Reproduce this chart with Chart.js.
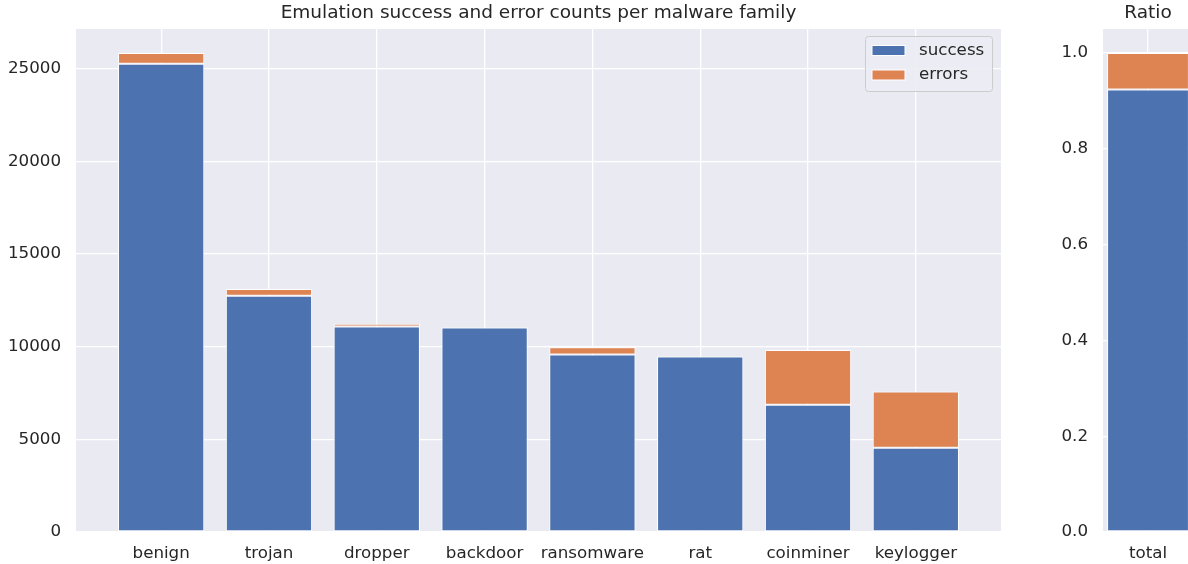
<!DOCTYPE html>
<html lang="en">
<head>
    <meta charset="UTF-8">
    <title>Emulation success and error counts</title>
    <style>
        html, body { margin: 0; padding: 0; background: #ffffff; overflow: hidden; }
        #wrap { position: relative; width: 1188px; height: 564px; overflow: hidden; }
        #mainBox { position: absolute; left: 0; top: 0; width: 1010px; height: 564px; }
        #ratioBox { position: absolute; left: 1030px; top: 0; width: 170px; height: 564px; }
    </style>
</head>
<body>
    <div id="wrap">
        <div id="mainBox"><canvas id="mainChart"></canvas></div>
        <div id="ratioBox"><canvas id="ratioChart"></canvas></div>
    </div>

    <script src="https://cdn.jsdelivr.net/npm/chart.js"></script>

    <script>
        const families = ['benign', 'trojan', 'dropper', 'backdoor', 'ransomware', 'rat', 'coinminer', 'keylogger'];
        const success = [25270, 12750, 11090, 11040, 9580, 9470, 6870, 4550];
        const errors = [580, 360, 150, 15, 395, 20, 2960, 3030];
        const countTicks = [0, 5000, 10000, 15000, 20000, 25000];
        const ratioTicks = [0, 0.2, 0.4, 0.6, 0.8, 1.0];
        const ratioLabels = ['total'];

        const BLUE = '#4c72b0';
        const ORANGE = '#dd8452';
        const TEXT = '#262626';
        const FONT = "'DejaVu Sans', sans-serif";

        Chart.defaults.font.family = FONT;
        Chart.defaults.font.size = 16.7;
        Chart.defaults.color = TEXT;

        // seaborn darkgrid background + axes title centred over the plot area
        const axesPlugin = {
            id: 'axes',
            beforeDraw(chart) {
                const { ctx, chartArea: a } = chart;
                ctx.save();
                ctx.fillStyle = '#eaeaf2';
                ctx.fillRect(a.left, a.top, a.right - a.left, a.bottom - a.top);
                ctx.restore();
            },
            afterDraw(chart, args, opts) {
                const { ctx, chartArea: a } = chart;
                ctx.save();
                ctx.font = '18.5px ' + FONT;
                ctx.fillStyle = TEXT;
                ctx.textAlign = 'center';
                ctx.textBaseline = 'middle';
                ctx.fillText(opts.text, (a.left + a.right) / 2, 13);
                ctx.restore();
            }
        };

        // legend drawn inside the axes, upper right
        const innerLegend = {
            id: 'innerLegend',
            afterDraw(chart) {
                const { ctx, chartArea: a } = chart;
                const w = 127, h = 55;
                const x = a.right - 9 - w, y = a.top + 7;
                ctx.save();
                ctx.fillStyle = 'rgba(236,236,244,0.9)';
                ctx.strokeStyle = '#cccccc';
                ctx.lineWidth = 1;
                ctx.beginPath();
                ctx.roundRect(x + 0.5, y + 0.5, w, h, 3);
                ctx.fill();
                ctx.stroke();
                ctx.font = '16.7px ' + FONT;
                ctx.textBaseline = 'middle';
                chart.data.datasets.forEach((ds, i) => {
                    const cy = y + 14.5 + i * 24.5;
                    ctx.fillStyle = ds.backgroundColor;
                    ctx.fillRect(x + 7, cy - 5, 33, 10);
                    ctx.strokeStyle = '#ffffff';
                    ctx.strokeRect(x + 7, cy - 5, 33, 10);
                    ctx.fillStyle = TEXT;
                    ctx.fillText(ds.label, x + 54, cy);
                });
                ctx.restore();
            }
        };

        const gridStyle = { color: '#ffffff', lineWidth: 1.3, drawTicks: false, offset: false };

        function barSet(label, values, color, pct) {
            return {
                label: label,
                data: values.map((v, i) => ({ x: i, y: v })),
                backgroundColor: color,
                borderColor: '#ffffff',
                borderWidth: 1,
                borderSkipped: false,
                barPercentage: pct,
                categoryPercentage: 1.0
            };
        }

        new Chart(document.getElementById('mainChart'), {
            type: 'bar',
            data: {
                datasets: [
                    barSet('success', success, BLUE, 0.8),
                    barSet('errors', errors, ORANGE, 0.8)
                ]
            },
            options: {
                responsive: true,
                maintainAspectRatio: false,
                animation: false,
                layout: { padding: { top: 29, right: 9 } },
                plugins: {
                    legend: { display: false },
                    tooltip: { enabled: false },
                    title: { display: false },
                    axes: { text: 'Emulation success and error counts per malware family' }
                },
                scales: {
                    x: {
                        type: 'linear',
                        stacked: true,
                        offset: false,
                        min: -0.79,
                        max: 7.79,
                        grid: gridStyle,
                        border: { display: false },
                        afterBuildTicks: s => { s.ticks = families.map((_, i) => ({ value: i })); },
                        afterFit: s => { s.height = 32; },
                        ticks: {
                            padding: 12,
                            autoSkip: false,
                            maxRotation: 0,
                            callback: v => families[v]
                        }
                    },
                    y: {
                        stacked: true,
                        min: 0,
                        max: 27150,
                        grid: gridStyle,
                        border: { display: false },
                        afterBuildTicks: s => { s.ticks = countTicks.map(v => ({ value: v })); },
                        afterFit: s => { s.width = 76; },
                        ticks: { padding: 15, callback: v => String(v) }
                    }
                }
            },
            plugins: [axesPlugin, innerLegend]
        });

        // overall ratio of successful / failed emulations
        const totalSuccess = success.reduce((a, b) => a + b, 0);
        const totalErrors = errors.reduce((a, b) => a + b, 0);
        const successRatio = [totalSuccess / (totalSuccess + totalErrors)];
        const errorRatio = [totalErrors / (totalSuccess + totalErrors)];

        new Chart(document.getElementById('ratioChart'), {
            type: 'bar',
            data: {
                datasets: [
                    barSet('success', successRatio, BLUE, 0.909),
                    barSet('errors', errorRatio, ORANGE, 0.909)
                ]
            },
            options: {
                responsive: true,
                maintainAspectRatio: false,
                animation: false,
                layout: { padding: { top: 29, right: 7 } },
                plugins: {
                    legend: { display: false },
                    tooltip: { enabled: false },
                    title: { display: false },
                    axes: { text: 'Ratio' }
                },
                scales: {
                    x: {
                        type: 'linear',
                        stacked: true,
                        offset: false,
                        min: -0.44,
                        max: 0.44,
                        grid: gridStyle,
                        border: { display: false },
                        afterBuildTicks: s => { s.ticks = ratioLabels.map((_, i) => ({ value: i })); },
                        afterFit: s => { s.height = 32; },
                        ticks: {
                            padding: 12,
                            autoSkip: false,
                            maxRotation: 0,
                            callback: v => ratioLabels[v]
                        }
                    },
                    y: {
                        stacked: true,
                        min: 0,
                        max: 1.05,
                        grid: gridStyle,
                        border: { display: false },
                        afterBuildTicks: s => { s.ticks = ratioTicks.map(v => ({ value: v })); },
                        afterFit: s => { s.width = 73; },
                        ticks: { padding: 15, callback: v => Number(v).toFixed(1) }
                    }
                }
            },
            plugins: [axesPlugin]
        });
    </script>
</body>
</html>
